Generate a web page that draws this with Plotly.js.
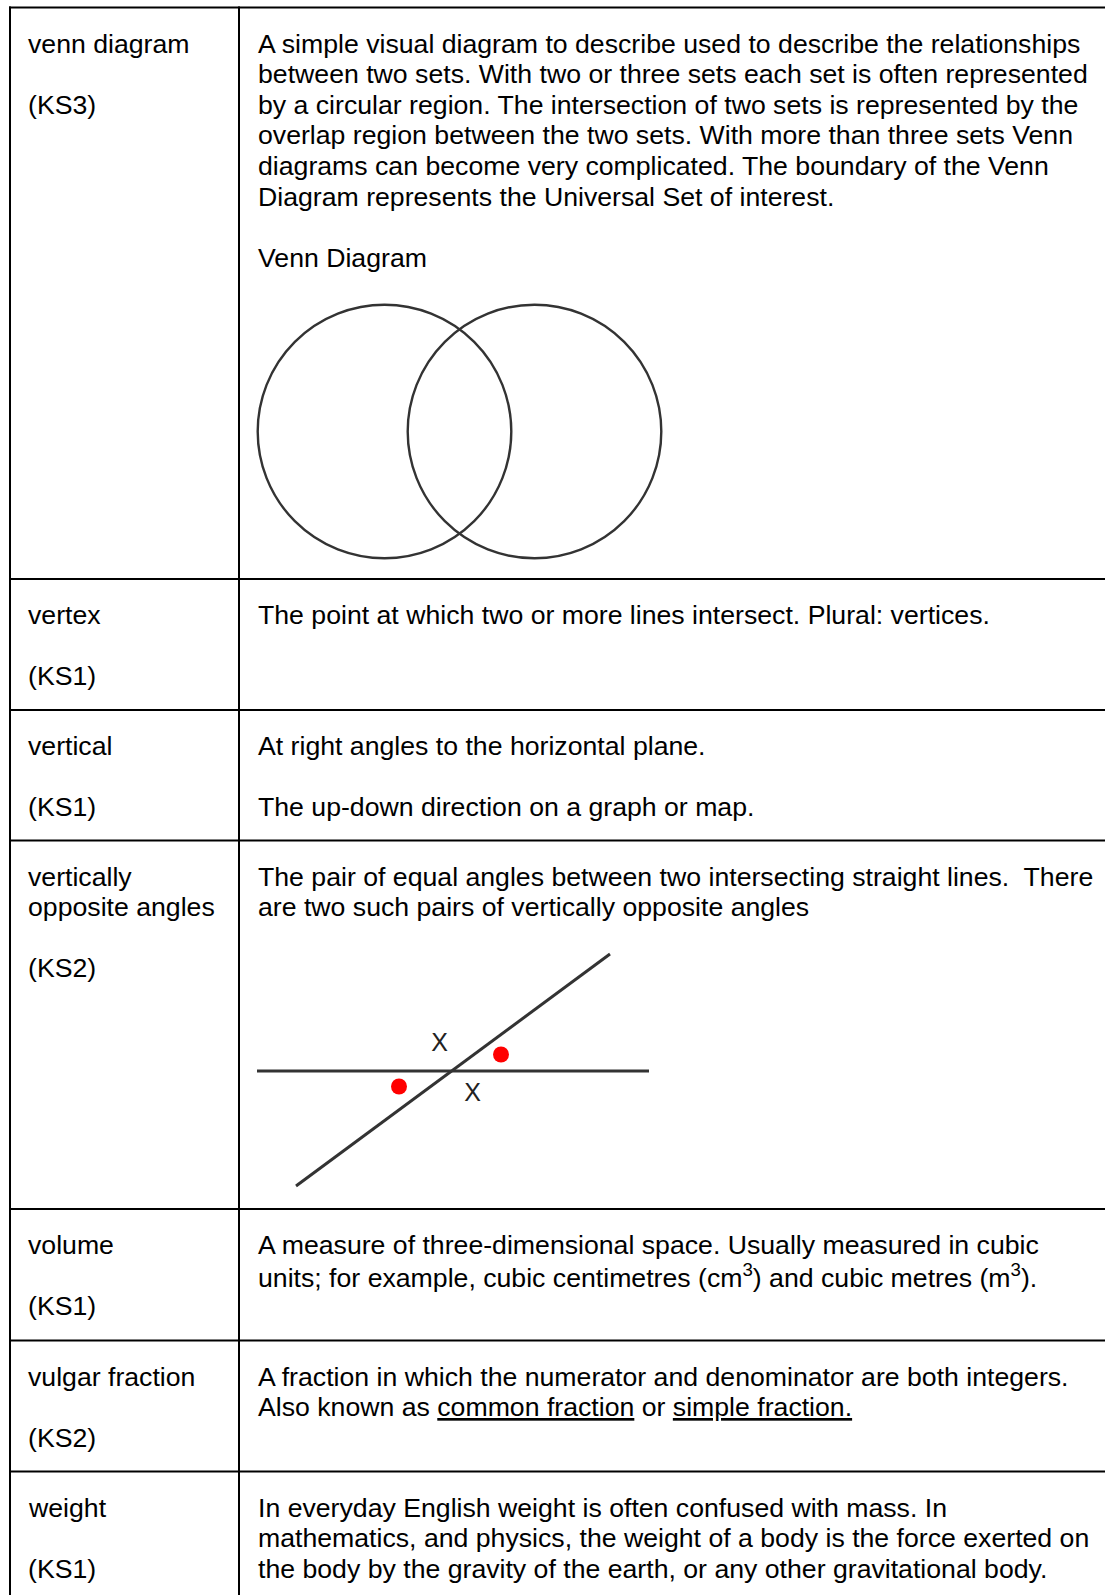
<!DOCTYPE html>
<html>
<head>
<meta charset="utf-8">
<script src="https://cdn.plot.ly/plotly-3.0.1.min.js"></script>
<style>html,body{margin:0;padding:0;background:#fff;}#chart{width:1105px;height:1595px;}</style>
</head>
<body>
<div id="chart"></div>
<script>
// ---- content ----
var terms = [
  ["venn diagram", "", "(KS3)"],
  ["vertex", "", "(KS1)"],
  ["vertical", "", "(KS1)"],
  ["vertically", "opposite angles", "", "(KS2)"],
  ["volume", "", "(KS1)"],
  ["vulgar fraction", "", "(KS2)"],
  ["weight", "", "(KS1)"]
];
var definitions = [
  ["A simple visual diagram to describe used to describe the relationships",
   "between two sets. With two or three sets each set is often represented",
   "by a circular region. The intersection of two sets is represented by the",
   "overlap region between the two sets. With more than three sets Venn",
   "diagrams can become very complicated. The boundary of the Venn",
   "Diagram represents the Universal Set of interest.",
   "",
   "Venn Diagram"],
  ["The point at which two or more lines intersect. Plural: vertices."],
  ["At right angles to the horizontal plane.",
   "",
   "The up-down direction on a graph or map."],
  ["The pair of equal angles between two intersecting straight lines.  There",
   "are two such pairs of vertically opposite angles"],
  ["A measure of three-dimensional space. Usually measured in cubic",
   "units; for example, cubic centimetres (cm<sup>3</sup>) and cubic metres (m<sup>3</sup>)."],
  ["A fraction in which the numerator and denominator are both integers.",
   "Also known as <u>common fraction</u> or <u>simple fraction.</u>"],
  ["In everyday English weight is often confused with mass. In",
   "mathematics, and physics, the weight of a body is the force exerted on",
   "the body by the gravity of the earth, or any other gravitational body."]
];

// ---- diagrams (page coordinates) ----
var vennCx = [384.5, 534.5];
var vennCy = [431.5, 431.5];
var vennR  = [126.8, 126.8];

var angleLineX = [[257, 649], [296, 610]];
var angleLineY = [[1071, 1071], [1186, 954]];
var dotX = [501, 399];
var dotY = [1054.5, 1086.5];
var crossX = [439.5, 472.5];
var crossY = [1045, 1094.5];
var crossText = ["X", "X"];

// ---- table geometry ----
var tableLeft = 10, colDivider = 239, pageRight = 1105, pageBottom = 1595;
var rowLines = [7.5, 579, 710, 840.5, 1209, 1340.5, 1471.5];
var termX = 26, defX = 256;
var firstLineOffset = 36.0, lineStep = 30.6;
var TEXT_SIZE = 26.67;

var FONT = "Liberation Sans, Arial, Helvetica, sans-serif";
var shapes = [];
var annotations = [];

// table rules
rowLines.forEach(function (y) {
  shapes.push({type: "line", xref: "x", yref: "y", x0: tableLeft - 1, x1: pageRight, y0: y, y1: y,
    line: {color: "#000", width: 2}});
});
[tableLeft, colDivider].forEach(function (x) {
  shapes.push({type: "line", xref: "x", yref: "y", x0: x, x1: x, y0: rowLines[0] - 1, y1: pageBottom,
    line: {color: "#000", width: 2}});
});

function addLines(lines, x, top) {
  lines.forEach(function (t, k) {
    if (!t) return;
    annotations.push({
      xref: "x", yref: "y", x: x, y: top + firstLineOffset + k * lineStep,
      xanchor: "left", yanchor: "middle", showarrow: false, align: "left",
      text: t, font: {family: FONT, size: TEXT_SIZE, color: "#000"}
    });
  });
}
terms.forEach(function (lines, i) { addLines(lines, termX, rowLines[i]); });
definitions.forEach(function (lines, i) { addLines(lines, defX, rowLines[i]); });

// venn circles
vennCx.forEach(function (cx, i) {
  shapes.push({type: "circle", xref: "x", yref: "y",
    x0: cx - vennR[i], x1: cx + vennR[i], y0: vennCy[i] - vennR[i], y1: vennCy[i] + vennR[i],
    line: {color: "#333", width: 2.4}, fillcolor: "rgba(0,0,0,0)"});
});

var traces = [];
angleLineX.forEach(function (xs, i) {
  traces.push({type: "scatter", mode: "lines", x: xs, y: angleLineY[i],
    line: {color: "#333", width: 3}, hoverinfo: "skip", showlegend: false});
});
traces.push({type: "scatter", mode: "markers", x: dotX, y: dotY,
  marker: {color: "#ff0000", size: 16, line: {width: 0}}, hoverinfo: "skip", showlegend: false});
traces.push({type: "scatter", mode: "text", x: crossX, y: crossY, text: crossText,
  textposition: "middle center", textfont: {family: FONT, size: 25, color: "#222"},
  hoverinfo: "skip", showlegend: false});

var layout = {
  width: 1105, height: 1595,
  margin: {l: 0, r: 0, t: 0, b: 0, pad: 0},
  paper_bgcolor: "#fff", plot_bgcolor: "#fff",
  showlegend: false,
  xaxis: {range: [0, 1105], visible: false, fixedrange: true},
  yaxis: {range: [1595, 0], visible: false, fixedrange: true},
  shapes: shapes,
  annotations: annotations
};
Plotly.newPlot("chart", traces, layout, {staticPlot: true, displayModeBar: false});
</script>
</body>
</html>
